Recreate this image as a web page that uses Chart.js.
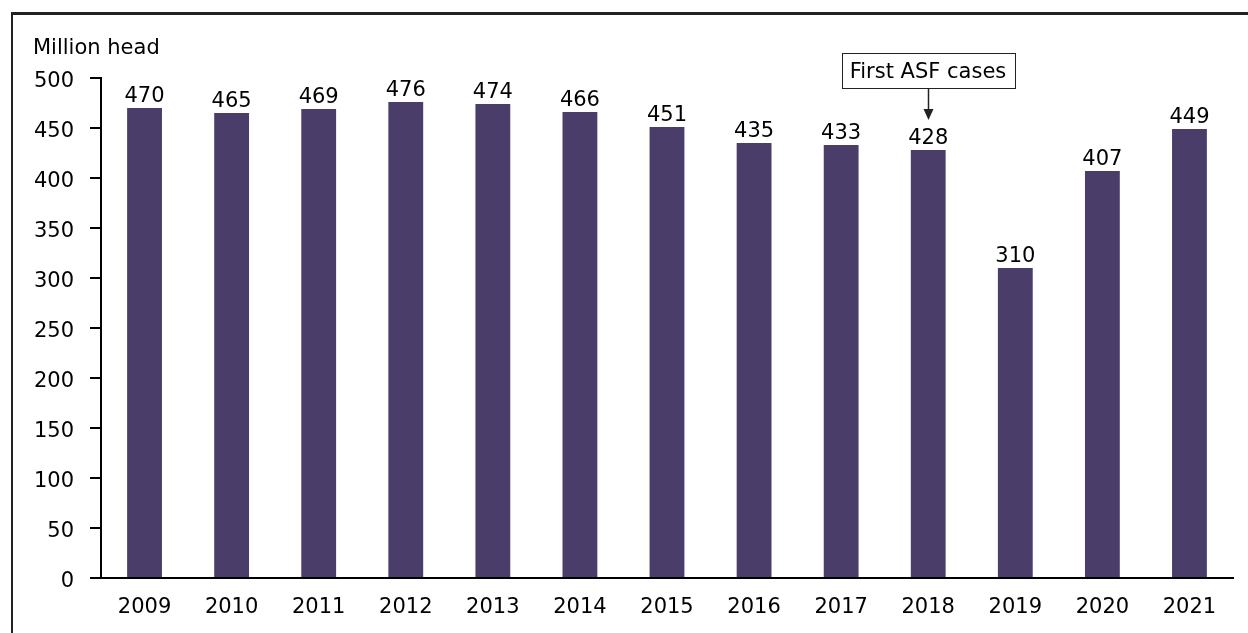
<!DOCTYPE html>
<html>
<head>
<meta charset="utf-8">
<script src="https://cdn.jsdelivr.net/npm/chart.js@4"></script>
<style>
    html, body { margin: 0; padding: 0; background: #FFFFFF; }
    #wrap { position: relative; width: 1248px; height: 633px; }
    #frame {
        position: absolute; left: 11px; top: 12px; right: 0; bottom: 0;
        border-top: 3px solid #222222; border-left: 2px solid #222222;
    }
    canvas { position: absolute; left: 0; top: 0; }
</style>
</head>
<body>
<div id="wrap">
    <div id="frame"></div>
    <canvas id="pigChart" width="1248" height="633"></canvas>
</div>
<script>
// ==========================================
// China hog inventory - bar chart
// ==========================================

const years = ["2009", "2010", "2011", "2012", "2013", "2014", "2015", "2016", "2017", "2018", "2019", "2020", "2021"];
const headCounts = [470, 465, 469, 476, 474, 466, 451, 435, 433, 428, 310, 407, 449];
const yTicks = [0, 50, 100, 150, 200, 250, 300, 350, 400, 450, 500];

const unitLabel = "Million head";
const noteText = "First ASF cases";
const noteYear = "2018";

const FONT = "'DejaVu Sans', sans-serif";
const FONT_SIZE = 21;
const TEXT = "#000000";

// value labels, unit label and the ASF note
const extrasPlugin = {
    id: "extras",
    afterDatasetsDraw(chart) {
        const ctx = chart.ctx;
        const meta = chart.getDatasetMeta(0);
        ctx.save();
        ctx.font = FONT_SIZE + "px " + FONT;
        ctx.fillStyle = TEXT;
        ctx.textAlign = "center";
        ctx.textBaseline = "alphabetic";
        meta.data.forEach(function (bar, i) {
            ctx.fillText(String(headCounts[i]), bar.x, bar.y - 6);
        });

        // unit label
        ctx.textAlign = "left";
        ctx.fillText(unitLabel, 33, 54);

        // annotation
        const xs = chart.scales.x;
        const ys = chart.scales.y;
        const cx = Math.round(xs.getPixelForValue(years.indexOf(noteYear)));
        const boxBottom = ys.getPixelForValue(490);
        const tipY = ys.getPixelForValue(458);
        const tw = ctx.measureText(noteText).width;
        const bw = Math.round(tw + 16);
        const bh = 35;
        ctx.strokeStyle = "#222222";
        ctx.lineWidth = 1;
        ctx.strokeRect(Math.round(cx - bw / 2) + 0.5, Math.round(boxBottom - bh) + 0.5, bw, bh);
        ctx.textAlign = "center";
        ctx.fillText(noteText, cx, boxBottom - 10);

        ctx.lineWidth = 1.5;
        ctx.beginPath();
        ctx.moveTo(cx + 0.5, boxBottom);
        ctx.lineTo(cx + 0.5, tipY - 9);
        ctx.stroke();
        ctx.beginPath();
        ctx.moveTo(cx - 4.5, tipY - 11);
        ctx.lineTo(cx + 5.5, tipY - 11);
        ctx.lineTo(cx + 0.5, tipY);
        ctx.closePath();
        ctx.fillStyle = "#222222";
        ctx.fill();
        ctx.restore();
    }
};

const pigChart = new Chart(
    document.getElementById("pigChart"),
    {
        type: "bar",

        data: {
            labels: years,
            datasets: [{
                data: headCounts,
                backgroundColor: "#4A3D6A",
                borderWidth: 0,
                categoryPercentage: 1.0,
                barPercentage: 0.4
            }]
        },

        options: {
            responsive: false,
            animation: false,
            layout: {
                padding: { top: 78, right: 15, left: 0, bottom: 0 }
            },
            plugins: {
                legend: { display: false },
                tooltip: { enabled: false }
            },
            scales: {
                x: {
                    grid: { display: false },
                    border: { display: true, color: "#000000", width: 2 },
                    ticks: {
                        color: TEXT,
                        font: { family: FONT, size: FONT_SIZE },
                        padding: 9,
                        maxRotation: 0
                    },
                    afterFit(scale) { scale.height = 55; }
                },
                y: {
                    min: 0,
                    max: 500,
                    afterBuildTicks(scale) {
                        scale.ticks = yTicks.map(function (v) { return { value: v }; });
                    },
                    grid: {
                        drawOnChartArea: false,
                        drawTicks: true,
                        tickLength: 11,
                        color: "#000000",
                        lineWidth: 2
                    },
                    border: { display: true, color: "#000000", width: 2 },
                    ticks: {
                        color: TEXT,
                        font: { family: FONT, size: FONT_SIZE },
                        padding: 16,
                        labelOffset: 4
                    },
                    afterFit(scale) { scale.width = 101; }
                }
            }
        },

        plugins: [extrasPlugin]
    }
);
</script>
</body>
</html>
